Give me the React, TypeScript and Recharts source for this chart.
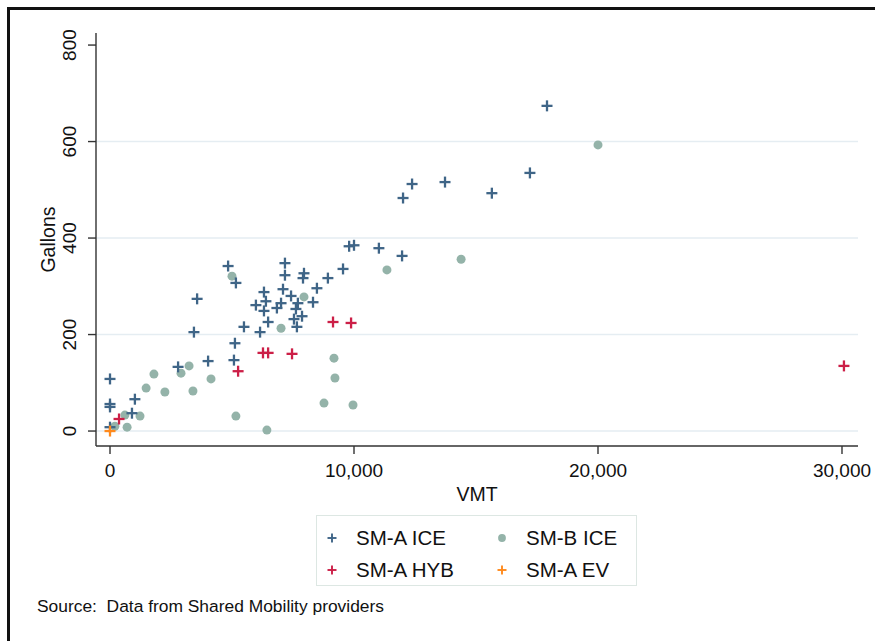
import React from "react";
import {
  ScatterChart,
  Scatter,
  XAxis,
  YAxis,
  ReferenceLine,
  Label,
} from "recharts";

// SM-A internal combustion vehicles
const smaIceVmt = [
  0, 0, 0, 0, 1020, 900, 2790, 3440, 3570, 4020, 4840, 5160, 5120, 5080, 5490,
  6150, 5980, 6310, 6390, 6310, 6480, 6840, 7010, 7090, 7170, 7170, 7420, 7540,
  7660, 7620, 7700, 7870, 7910, 7950, 8320, 8480, 8930, 9550, 9800, 10000,
  11020, 11970, 12010, 12380, 13730, 15650, 17210, 17910,
];
const smaIceGallons = [
  108, 56, 50, 8, 66, 37, 133, 205, 274, 145, 342, 307, 182, 147, 216, 205,
  261, 288, 269, 249, 226, 255, 265, 294, 348, 323, 280, 232, 216, 253, 265,
  238, 317, 327, 267, 296, 317, 336, 383, 385, 379, 363, 483, 512, 516, 493,
  535, 674,
];

// SM-B internal combustion vehicles
const smbIceVmt = [
  5000, 7010, 3240, 2910, 1800, 1480, 2250, 3400, 4140, 610, 1230, 700, 200,
  5160, 6430, 7950, 9180, 9220, 8770, 9960, 11350, 14390, 20000,
];
const smbIceGallons = [
  321, 213, 135, 120, 118, 89, 81, 83, 108, 33, 31, 8, 10, 31, 2, 278, 151,
  110, 58, 54, 334, 356, 593,
];

// SM-A hybrids
const smaHybVmt = [370, 5250, 6270, 6480, 7460, 9140, 9880, 30080];
const smaHybGallons = [25, 124, 162, 162, 160, 226, 224, 135];

// SM-A electric
const smaEvVmt = [0];
const smaEvGallons = [0];

const xTicks = [0, 10000, 20000, 30000];
const yTicks = [0, 200, 400, 600, 800];
const gridValues = [0, 200, 400, 600];

const BLUE = "#3f6587";
const SAGE = "#94b3a9";
const RED = "#cc1f47";
const ORANGE = "#ff8a1c";
const FONT = '"Liberation Sans", Arial, Helvetica, sans-serif';

const zip = (xs: number[], ys: number[]) =>
  xs.map((vmt, i) => ({ vmt, gallons: ys[i] }));

const smaIce = zip(smaIceVmt, smaIceGallons);
const smbIce = zip(smbIceVmt, smbIceGallons);
const smaHyb = zip(smaHybVmt, smaHybGallons);
const smaEv = zip(smaEvVmt, smaEvGallons);

const plus = (color: string, r = 5.5) => (props: any) => {
  const { cx, cy } = props;
  return (
    <g>
      <line x1={cx - r} x2={cx + r} y1={cy} y2={cy} stroke={color} strokeWidth={2.3} />
      <line x1={cx} x2={cx} y1={cy - r} y2={cy + r} stroke={color} strokeWidth={2.3} />
    </g>
  );
};

const dot = (color: string) => (props: any) => (
  <circle cx={props.cx} cy={props.cy} r={4.5} fill={color} />
);

const XTick = (props: any) => (
  <text
    x={props.x}
    y={props.y + 14}
    textAnchor="middle"
    dominantBaseline="central"
    fontFamily={FONT}
    fontSize={19}
    fill="#111"
  >
    {Number(props.payload.value).toLocaleString("en-US")}
  </text>
);

const YTick = (props: any) => {
  const x = props.x - 16;
  return (
    <text
      x={x}
      y={props.y}
      transform={`rotate(-90, ${x}, ${props.y})`}
      textAnchor="middle"
      dominantBaseline="central"
      fontFamily={FONT}
      fontSize={19}
      fill="#111"
    >
      {props.payload.value}
    </text>
  );
};

function LegendMark({ kind, color }: { kind: "plus" | "dot"; color: string }) {
  return (
    <svg width={14} height={14} style={{ display: "block" }}>
      {kind === "plus" ? (
        <g stroke={color} strokeWidth={1.9}>
          <line x1={2.5} x2={11.5} y1={7} y2={7} />
          <line x1={7} x2={7} y1={2.5} y2={11.5} />
        </g>
      ) : (
        <circle cx={7} cy={7} r={3.9} fill={color} />
      )}
    </svg>
  );
}

const legendItems: { name: string; kind: "plus" | "dot"; color: string }[] = [
  { name: "SM-A ICE", kind: "plus", color: BLUE },
  { name: "SM-B ICE", kind: "dot", color: SAGE },
  { name: "SM-A HYB", kind: "plus", color: RED },
  { name: "SM-A EV", kind: "plus", color: ORANGE },
];

export default function App() {
  return (
    <div
      style={{
        position: "absolute",
        left: 0,
        top: 0,
        width: 875,
        height: 641,
        background: "#fff",
        overflow: "hidden",
        fontFamily: FONT,
      }}
    >
      <div
        style={{
          position: "absolute",
          left: 7,
          top: 7,
          width: 900,
          height: 700,
          borderLeft: "3px solid #111",
          borderTop: "3px solid #111",
        }}
      />
      <div style={{ position: "absolute", left: 0, top: 0 }}>
        <ScatterChart
          width={875}
          height={641}
          margin={{ top: 33, right: 17, left: 0, bottom: 135 }}
        >
          {gridValues.map((v) => (
            <ReferenceLine key={v} y={v} stroke="#e5edf2" strokeWidth={1.6} />
          ))}
          <XAxis
            type="number"
            dataKey="vmt"
            domain={[-574, 30656]}
            ticks={xTicks}
            allowDataOverflow
            tick={<XTick />}
            tickSize={8}
            height={60}
            stroke="#333"
            strokeWidth={1.4}
          >
            <Label
              value="VMT"
              position="insideBottom"
              offset={5}
              style={{ fontFamily: FONT, fontSize: 19.5, fill: "#111" }}
            />
          </XAxis>
          <YAxis
            type="number"
            dataKey="gallons"
            domain={[-31, 825]}
            ticks={yTicks}
            allowDataOverflow
            tick={<YTick />}
            tickSize={8}
            width={96}
            stroke="#333"
            strokeWidth={1.4}
          >
            <Label
              value="Gallons"
              angle={-90}
              position="insideLeft"
              offset={48}
              style={{ fontFamily: FONT, fontSize: 19.5, fill: "#111", textAnchor: "middle" }}
            />
          </YAxis>
          <Scatter name="SM-B ICE" data={smbIce} shape={dot(SAGE)} isAnimationActive={false} />
          <Scatter name="SM-A ICE" data={smaIce} shape={plus(BLUE)} isAnimationActive={false} />
          <Scatter name="SM-A HYB" data={smaHyb} shape={plus(RED)} isAnimationActive={false} />
          <Scatter name="SM-A EV" data={smaEv} shape={plus(ORANGE)} isAnimationActive={false} />
        </ScatterChart>
      </div>
      <div
        style={{
          position: "absolute",
          left: 316,
          top: 515,
          width: 321,
          height: 71,
          border: "1px solid #dde7e3",
          display: "grid",
          gridTemplateColumns: "170px 151px",
          gridTemplateRows: "32px 32px",
          paddingTop: 6,
          boxSizing: "border-box",
        }}
      >
        {legendItems.map((it) => (
          <div
            key={it.name}
            style={{ display: "flex", alignItems: "center", paddingLeft: 8 }}
          >
            <LegendMark kind={it.kind} color={it.color} />
            <span style={{ marginLeft: 17, fontSize: 20.5, color: "#111" }}>{it.name}</span>
          </div>
        ))}
      </div>
      <div
        style={{
          position: "absolute",
          left: 37,
          top: 596,
          fontSize: 17.4,
          color: "#111",
          whiteSpace: "pre",
        }}
      >
        {"Source:  Data from Shared Mobility providers"}
      </div>
    </div>
  );
}
